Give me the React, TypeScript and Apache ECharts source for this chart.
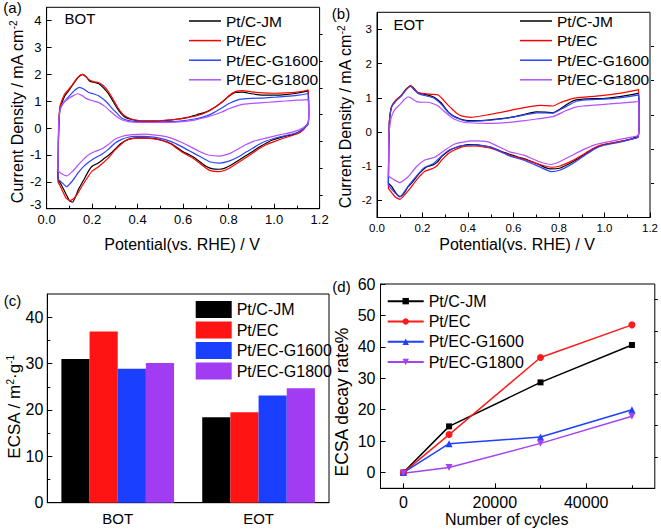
import React, { useEffect, useRef } from 'react';
import * as echarts from 'echarts';

const FONT = "'Liberation Sans', Arial, Helvetica, sans-serif";

const seriesNames = ['Pt/C-JM', 'Pt/EC', 'Pt/EC-G1600', 'Pt/EC-G1800'];
const lineColors = ['#000000', '#ff0000', '#2a44ff', '#b450ff'];
const barColors = ['#000000', '#ff1414', '#1a3fff', '#a23cf2'];
const decayColors = ['#000000', '#ff1a1a', '#2040ff', '#a443f0'];

// ---------- (a) CV at BOT : [potential V, current mA cm-2] ----------
const cvBotJM = [
  [0.05, -1.9], [0.052, -0.5], [0.055, 0.4], [0.06, 0.8], [0.07, 1.0], [0.08, 1.2], [0.095, 1.37], [0.11, 1.55],
  [0.125, 1.74], [0.14, 1.9], [0.158, 2.0], [0.175, 1.9], [0.19, 1.75], [0.21, 1.7], [0.23, 1.65], [0.25, 1.5],
  [0.27, 1.3], [0.285, 1.1], [0.3, 0.88], [0.315, 0.68], [0.33, 0.52], [0.345, 0.41], [0.37, 0.33], [0.4, 0.28],
  [0.43, 0.26], [0.47, 0.26], [0.5, 0.27], [0.55, 0.31], [0.58, 0.34], [0.62, 0.4], [0.66, 0.5], [0.7, 0.6],
  [0.74, 0.78], [0.775, 0.99], [0.8, 1.18], [0.83, 1.33], [0.86, 1.34], [0.9, 1.28], [0.95, 1.23], [1.0, 1.23],
  [1.05, 1.25], [1.1, 1.3], [1.145, 1.38], [1.15, 1.4], [1.152, 0.6], [1.15, 0.2],
  [1.13, -0.02], [1.1, -0.18], [1.08, -0.25], [1.05, -0.3], [1.02, -0.37], [0.99, -0.45], [0.965, -0.56], [0.935, -0.7],
  [0.906, -0.87], [0.875, -1.03], [0.848, -1.18], [0.82, -1.33], [0.79, -1.47], [0.76, -1.53], [0.73, -1.52], [0.7, -1.42],
  [0.672, -1.24], [0.65, -1.1], [0.629, -1.0], [0.6, -0.88], [0.57, -0.7], [0.548, -0.58], [0.51, -0.46], [0.475, -0.39],
  [0.43, -0.36], [0.4, -0.36], [0.37, -0.39], [0.345, -0.47], [0.33, -0.55], [0.315, -0.66], [0.29, -0.88], [0.271, -1.02],
  [0.25, -1.15], [0.227, -1.3], [0.2, -1.42], [0.183, -1.62], [0.16, -1.98], [0.139, -2.3], [0.125, -2.6], [0.113, -2.76],
  [0.1, -2.7], [0.085, -2.45], [0.07, -2.2], [0.06, -2.05], [0.05, -1.93],
];
const cvBotEC = [
  [0.05, -2.0], [0.052, -0.5], [0.055, 0.45], [0.06, 0.85], [0.07, 1.1], [0.08, 1.28], [0.095, 1.42], [0.11, 1.58],
  [0.125, 1.76], [0.14, 1.92], [0.158, 2.0], [0.175, 1.9], [0.19, 1.78], [0.21, 1.72], [0.228, 1.7], [0.25, 1.58],
  [0.27, 1.38], [0.285, 1.18], [0.3, 0.95], [0.315, 0.74], [0.33, 0.57], [0.345, 0.45], [0.37, 0.35], [0.4, 0.29],
  [0.43, 0.27], [0.47, 0.27], [0.5, 0.28], [0.55, 0.31], [0.58, 0.34], [0.62, 0.39], [0.66, 0.46], [0.7, 0.58],
  [0.74, 0.78], [0.775, 1.0], [0.8, 1.2], [0.83, 1.36], [0.86, 1.4], [0.9, 1.35], [0.95, 1.31], [1.0, 1.3],
  [1.05, 1.31], [1.1, 1.34], [1.145, 1.41], [1.15, 1.43], [1.152, 0.6], [1.15, 0.2],
  [1.13, -0.05], [1.1, -0.22], [1.05, -0.35], [1.0, -0.5], [0.965, -0.62], [0.935, -0.76], [0.906, -0.93], [0.875, -1.1],
  [0.848, -1.25], [0.82, -1.4], [0.79, -1.55], [0.755, -1.62], [0.72, -1.58], [0.7, -1.48], [0.672, -1.3], [0.65, -1.16],
  [0.629, -1.05], [0.6, -0.92], [0.57, -0.74], [0.548, -0.6], [0.51, -0.47], [0.475, -0.4], [0.43, -0.37], [0.4, -0.37],
  [0.37, -0.4], [0.345, -0.48], [0.33, -0.58], [0.3, -0.82], [0.271, -1.12], [0.25, -1.28], [0.227, -1.45], [0.2, -1.6],
  [0.183, -1.8], [0.16, -2.1], [0.139, -2.4], [0.12, -2.62], [0.103, -2.7], [0.085, -2.6], [0.065, -2.25], [0.05, -2.0],
];
const cvBotG1600 = [
  [0.05, -1.9], [0.052, -0.5], [0.055, 0.3], [0.06, 0.7], [0.075, 0.95], [0.1, 1.2], [0.125, 1.42], [0.144, 1.52],
  [0.165, 1.45], [0.185, 1.33], [0.205, 1.28], [0.23, 1.2], [0.26, 1.0], [0.29, 0.72], [0.31, 0.55], [0.33, 0.38],
  [0.36, 0.28], [0.4, 0.24], [0.45, 0.22], [0.5, 0.23], [0.585, 0.26], [0.65, 0.34], [0.7, 0.45], [0.731, 0.56],
  [0.77, 0.75], [0.804, 0.93], [0.848, 1.07], [0.9, 1.11], [0.95, 1.12], [1.0, 1.15], [1.05, 1.18], [1.1, 1.22],
  [1.145, 1.28], [1.15, 1.3], [1.152, 0.5], [1.15, 0.15],
  [1.13, -0.02], [1.1, -0.17], [1.06, -0.26], [1.023, -0.33], [0.965, -0.48], [0.935, -0.6], [0.906, -0.75], [0.875, -0.9],
  [0.848, -1.05], [0.804, -1.22], [0.76, -1.3], [0.716, -1.25], [0.672, -1.05], [0.629, -0.85], [0.585, -0.65], [0.548, -0.5],
  [0.5, -0.38], [0.43, -0.31], [0.39, -0.31], [0.358, -0.34], [0.33, -0.42], [0.3, -0.56], [0.27, -0.8], [0.241, -0.98],
  [0.21, -1.12], [0.183, -1.28], [0.16, -1.45], [0.139, -1.66], [0.115, -1.95], [0.088, -2.18], [0.07, -2.05], [0.05, -1.9],
];
const cvBotG1800 = [
  [0.05, -1.6], [0.052, 0.0], [0.055, 0.4], [0.06, 0.72], [0.075, 0.95], [0.1, 1.12], [0.12, 1.22], [0.135, 1.28],
  [0.155, 1.22], [0.175, 1.1], [0.198, 1.03], [0.23, 0.95], [0.256, 0.81], [0.28, 0.63], [0.305, 0.45], [0.33, 0.31],
  [0.36, 0.24], [0.4, 0.21], [0.5, 0.21], [0.585, 0.23], [0.65, 0.3], [0.731, 0.48], [0.77, 0.6], [0.804, 0.73],
  [0.848, 0.86], [0.9, 0.92], [0.95, 0.95], [1.0, 0.98], [1.05, 1.01], [1.1, 1.04], [1.145, 1.06], [1.15, 1.08],
  [1.152, 0.5], [1.15, 0.2],
  [1.126, 0.0], [1.08, -0.15], [1.023, -0.25], [0.96, -0.38], [0.906, -0.5], [0.875, -0.62], [0.848, -0.75], [0.804, -0.95],
  [0.76, -1.04], [0.716, -1.01], [0.672, -0.87], [0.629, -0.68], [0.585, -0.5], [0.548, -0.37], [0.5, -0.28], [0.43, -0.22],
  [0.358, -0.26], [0.33, -0.31], [0.3, -0.41], [0.27, -0.62], [0.241, -0.78], [0.21, -0.88], [0.183, -1.0], [0.16, -1.18],
  [0.139, -1.37], [0.115, -1.6], [0.088, -1.78], [0.07, -1.72], [0.05, -1.6],
];

// ---------- (b) CV at EOT ----------
const cvEotJM = [
  [0.05, -1.5], [0.052, -0.3], [0.055, 0.35], [0.064, 0.74], [0.079, 0.89], [0.095, 1.0], [0.108, 1.08], [0.128, 1.25],
  [0.148, 1.35], [0.162, 1.28], [0.174, 1.18], [0.19, 1.13], [0.203, 1.11], [0.225, 1.08], [0.247, 1.03], [0.265, 0.95],
  [0.284, 0.84], [0.3, 0.7], [0.313, 0.59], [0.33, 0.5], [0.349, 0.43], [0.375, 0.36], [0.4, 0.33], [0.473, 0.34],
  [0.547, 0.39], [0.605, 0.45], [0.65, 0.52], [0.7, 0.59], [0.74, 0.58], [0.773, 0.56], [0.8, 0.65], [0.824, 0.76],
  [0.85, 0.87], [0.876, 0.94], [0.92, 0.97], [0.992, 0.98], [1.05, 1.02], [1.1, 1.07], [1.146, 1.13], [1.15, 1.15],
  [1.152, 0.3], [1.148, -0.1],
  [1.124, -0.19], [1.066, -0.28], [0.992, -0.38], [0.955, -0.48], [0.92, -0.62], [0.89, -0.75], [0.861, -0.87], [0.83, -0.98],
  [0.802, -1.06], [0.765, -1.08], [0.74, -1.04], [0.715, -0.96], [0.685, -0.88], [0.656, -0.8], [0.62, -0.73], [0.583, -0.65],
  [0.54, -0.55], [0.503, -0.45], [0.45, -0.38], [0.4, -0.37], [0.371, -0.41], [0.345, -0.46], [0.32, -0.53], [0.3, -0.63],
  [0.284, -0.72], [0.265, -0.88], [0.247, -0.96], [0.225, -1.0], [0.21, -1.06], [0.19, -1.18], [0.174, -1.31], [0.155, -1.47],
  [0.137, -1.6], [0.12, -1.78], [0.101, -1.89], [0.085, -1.8], [0.065, -1.6], [0.05, -1.5],
];
const cvEotEC = [
  [0.05, -1.65], [0.052, -0.3], [0.055, 0.35], [0.064, 0.74], [0.079, 0.9], [0.108, 1.08], [0.128, 1.25], [0.148, 1.36],
  [0.165, 1.25], [0.18, 1.15], [0.21, 1.12], [0.245, 1.1], [0.269, 1.08], [0.29, 0.95], [0.31, 0.8], [0.327, 0.69],
  [0.35, 0.55], [0.371, 0.47], [0.415, 0.43], [0.45, 0.46], [0.503, 0.52], [0.55, 0.58], [0.605, 0.66], [0.671, 0.74],
  [0.72, 0.78], [0.773, 0.76], [0.817, 0.89], [0.876, 1.0], [0.963, 1.05], [1.066, 1.13], [1.146, 1.23], [1.15, 1.25],
  [1.152, 0.3], [1.148, -0.15],
  [1.124, -0.2], [1.066, -0.28], [0.992, -0.37], [0.955, -0.46], [0.92, -0.6], [0.861, -0.83], [0.802, -1.0], [0.765, -1.03],
  [0.715, -0.95], [0.656, -0.82], [0.583, -0.68], [0.503, -0.48], [0.43, -0.41], [0.371, -0.44], [0.32, -0.6], [0.284, -0.82],
  [0.265, -0.98], [0.247, -1.06], [0.21, -1.15], [0.174, -1.4], [0.137, -1.72], [0.101, -1.97], [0.08, -1.9], [0.05, -1.65],
];
const cvEotG1600 = [
  [0.05, -1.55], [0.052, -0.3], [0.055, 0.35], [0.064, 0.72], [0.079, 0.87], [0.108, 1.06], [0.128, 1.23], [0.148, 1.33],
  [0.165, 1.22], [0.18, 1.13], [0.203, 1.08], [0.247, 1.0], [0.284, 0.8], [0.313, 0.57], [0.349, 0.41], [0.4, 0.31],
  [0.473, 0.33], [0.547, 0.38], [0.605, 0.44], [0.65, 0.5], [0.7, 0.56], [0.773, 0.55], [0.824, 0.72], [0.876, 0.9],
  [0.92, 0.94], [0.992, 0.96], [1.066, 1.0], [1.146, 1.08], [1.15, 1.1], [1.152, 0.3], [1.148, -0.15],
  [1.124, -0.2], [1.066, -0.3], [0.992, -0.4], [0.955, -0.5], [0.92, -0.65], [0.861, -0.92], [0.802, -1.12], [0.765, -1.16],
  [0.715, -1.02], [0.656, -0.85], [0.583, -0.7], [0.503, -0.45], [0.43, -0.38], [0.371, -0.4], [0.32, -0.52], [0.284, -0.7],
  [0.247, -0.93], [0.21, -1.03], [0.174, -1.28], [0.137, -1.58], [0.101, -1.9], [0.075, -1.75], [0.05, -1.55],
];
const cvEotG1800 = [
  [0.05, -1.29], [0.052, -0.1], [0.057, 0.2], [0.064, 0.45], [0.079, 0.66], [0.1, 0.8], [0.12, 0.95], [0.137, 1.03],
  [0.155, 0.97], [0.174, 0.89], [0.2, 0.87], [0.225, 0.87], [0.25, 0.82], [0.269, 0.76], [0.288, 0.65], [0.305, 0.55],
  [0.33, 0.42], [0.349, 0.35], [0.37, 0.3], [0.4, 0.27], [0.488, 0.25], [0.583, 0.28], [0.65, 0.33], [0.7, 0.38],
  [0.773, 0.45], [0.83, 0.62], [0.87, 0.72], [0.905, 0.76], [1.022, 0.82], [1.146, 0.89], [1.15, 0.9], [1.152, 0.3],
  [1.148, -0.1],
  [1.124, -0.14], [1.022, -0.28], [0.96, -0.37], [0.92, -0.48], [0.861, -0.67], [0.802, -0.87], [0.765, -0.95], [0.715, -0.87],
  [0.642, -0.67], [0.583, -0.58], [0.488, -0.29], [0.415, -0.26], [0.342, -0.35], [0.298, -0.53], [0.254, -0.74], [0.21, -0.82],
  [0.174, -1.01], [0.137, -1.31], [0.101, -1.48], [0.075, -1.4], [0.05, -1.29],
];

// ---------- (c) ECSA ----------
const ecsaCategories = ['BOT', 'EOT'];
const ecsaJM = [31.0, 18.4];
const ecsaEC = [36.9, 19.5];
const ecsaG1600 = [28.9, 23.1];
const ecsaG1800 = [30.1, 24.7];

// ---------- (d) decay ----------
const cycles = [0, 10000, 30000, 50000];
const decayJM = [0, 14.7, 28.7, 40.6];
const decayEC = [0, 12.1, 36.6, 47.0];
const decayG1600 = [0, 9.2, 11.3, 20.0];
const decayG1800 = [-0.2, 1.6, 9.3, 17.9];

// tick values
const cvXMajor = [0, 0.2, 0.4, 0.6, 0.8, 1.0, 1.2];
const cvXMinor = [0.1, 0.3, 0.5, 0.7, 0.9, 1.1];
const botYMajor = [-3, -2, -1, 0, 1, 2, 3, 4];
const botYMinor = [-2.5, -1.5, -0.5, 0.5, 1.5, 2.5, 3.5];
const eotYMajor = [-2, -1, 0, 1, 2, 3];
const eotYMinor = [-1.5, -0.5, 0.5, 1.5, 2.5];
const ecsaYMajor = [0, 10, 20, 30, 40];
const ecsaYMinor = [5, 15, 25, 35];
const decayXMajor = [0, 20000, 40000];
const decayXMinor = [10000, 30000, 50000];
const decayYMajor = [0, 10, 20, 30, 40, 50, 60];
const decayYMinor = [5, 15, 25, 35, 45, 55];

const BLACK = '#000';

function gridBox(left: number, top: number, width: number, height: number) {
  return { left, top, width, height, show: true, borderColor: BLACK, borderWidth: 1, backgroundColor: 'transparent', containLabel: false };
}

function xAxes(min: number, max: number, majors: number[], minors: number[], h: number, fs: number, margin: number, fmt: (v: number) => string) {
  return [
    {
      type: 'value', min, max, position: 'bottom',
      axisLine: { show: true, onZero: false, lineStyle: { color: BLACK, width: 1 } },
      axisTick: { show: true, inside: true, length: 5, customValues: majors, lineStyle: { color: BLACK } },
      axisLabel: { customValues: majors, color: BLACK, fontSize: fs, fontFamily: FONT, margin, formatter: fmt },
      splitLine: { show: false },
    },
    {
      type: 'value', min, max, position: 'top', offset: -h,
      axisLine: { show: false },
      axisTick: { show: true, inside: false, length: 3, customValues: minors, lineStyle: { color: BLACK } },
      axisLabel: { show: false },
      splitLine: { show: false },
    },
  ];
}

function yAxes(min: number, max: number, majors: number[], minors: number[], w: number, fs: number, margin: number, liftLowest = false) {
  return [
    {
      type: 'value', min, max, position: 'left',
      axisLine: { show: true, onZero: false, lineStyle: { color: BLACK, width: 1 } },
      axisTick: { show: true, inside: true, length: 5, customValues: majors, lineStyle: { color: BLACK } },
      axisLabel: {
        customValues: majors, color: BLACK, fontSize: fs, fontFamily: FONT, margin,
        formatter: (v: number) => (liftLowest && v === min ? '{lo|' + String(v) + '}' : String(v)),
        rich: { lo: { fontSize: fs, fontFamily: FONT, color: BLACK, padding: [0, 0, 9, 0] } },
      },
      splitLine: { show: false },
    },
    {
      type: 'value', min, max, position: 'right', offset: -w,
      axisLine: { show: false },
      axisTick: { show: true, inside: false, length: 3, customValues: minors, lineStyle: { color: BLACK } },
      axisLabel: { show: false },
      splitLine: { show: false },
    },
  ];
}

function txt(text: string, x: number, y: number, fontSize: number, extra: any = {}) {
  return {
    type: 'text', x, y, ...extra,
    style: {
      text, fontSize, fontFamily: FONT, fill: BLACK,
      align: 'center', verticalAlign: 'middle', textAlign: 'center', textVerticalAlign: 'middle',
    },
  };
}

function richTxt(parts: string, x: number, y: number, fontSize: number, supSize: number, supRaise: number) {
  return {
    type: 'text', x, y, rotation: Math.PI / 2,
    style: {
      text: parts, fill: BLACK, fontFamily: FONT, fontSize,
      align: 'center', verticalAlign: 'middle', textAlign: 'center', textVerticalAlign: 'middle',
      rich: {
        m: { fontSize, fontFamily: FONT, fill: BLACK, color: BLACK, verticalAlign: 'bottom' },
        s: { fontSize: supSize, fontFamily: FONT, fill: BLACK, color: BLACK, verticalAlign: 'bottom', padding: [0, 0, supRaise, 0] },
      },
    },
  };
}

function cvOption(cfg: any) {
  const { left, top, width, height, ymin, ymax, yMajor, yMinor, tickFs, xMargin, data, legendLeft, tag, tagPos, label, labelPos, xTitle, yTitle, lift } = cfg;
  return {
    animation: false,
    grid: [gridBox(left, top, width, height)],
    xAxis: xAxes(0, 1.2, cvXMajor, cvXMinor, height, tickFs, xMargin, (v: number) => v.toFixed(1)),
    yAxis: yAxes(ymin, ymax, yMajor, yMinor, width, tickFs, 5, lift),
    legend: {
      orient: 'vertical', left: legendLeft, top: 6.2, itemWidth: 32, itemHeight: 1.5, itemGap: 0, icon: 'rect',
      textStyle: { fontSize: 15.5, fontFamily: FONT, color: BLACK, lineHeight: 19.6 },
      data: seriesNames,
    },
    series: data.map((d: number[][], i: number) => ({
      type: 'line', name: seriesNames[i], data: d, xAxisIndex: 0, yAxisIndex: 0,
      symbol: 'none', smooth: 0.15,
      lineStyle: { width: 1.2, color: lineColors[i] }, itemStyle: { color: lineColors[i] },
    })),
    graphic: [
      txt(tag, tagPos[0], tagPos[1], 15),
      txt(label, labelPos[0], labelPos[1], 15),
      txt('Potential(vs. RHE) / V', xTitle[0], xTitle[1], 16),
      richTxt('{m|Current Density / mA cm}{s|-2}', yTitle[0], yTitle[1], 16, 10, 7),
    ],
  };
}

const optionA = cvOption({
  left: 46.6, top: 7.3, width: 273, height: 201.4, ymin: -3, ymax: 4.5, yMajor: botYMajor, yMinor: botYMinor,
  tickFs: 13, xMargin: 4.5, lift: true, data: [cvBotJM, cvBotEC, cvBotG1600, cvBotG1800], legendLeft: 184,
  tag: '(a)', tagPos: [12.5, 7], label: 'BOT', labelPos: [80, 18.3], xTitle: [182, 244], yTitle: [16.7, 112],
});

const optionB = cvOption({
  left: 377, top: 12.3, width: 274, height: 205.2, ymin: -2.5, ymax: 3.5, yMajor: eotYMajor, yMinor: eotYMinor,
  tickFs: 11.5, xMargin: 4, lift: false, data: [cvEotJM, cvEotEC, cvEotG1600, cvEotG1800], legendLeft: 515,
  tag: '(b)', tagPos: [341, 13], label: 'EOT', labelPos: [408.8, 24.3], xTitle: [517, 244], yTitle: [345, 117],
});

const optionC = {
  animation: false,
  grid: [gridBox(47.3, 294, 281.7, 208.7)],
  xAxis: [{
    type: 'category', data: ecsaCategories,
    axisLine: { show: true, lineStyle: { color: BLACK, width: 1 } },
    axisTick: { show: false },
    axisLabel: { color: BLACK, fontSize: 15, fontFamily: FONT, margin: 8 },
    splitLine: { show: false },
  }],
  yAxis: yAxes(0, 45, ecsaYMajor, ecsaYMinor, 281.7, 16, 4),
  legend: {
    orient: 'vertical', left: 190.7, top: 296, itemWidth: 36, itemHeight: 17, itemGap: 3.5, icon: 'rect',
    textStyle: { fontSize: 16, fontFamily: FONT, color: BLACK, lineHeight: 17 },
    data: seriesNames,
  },
  series: [ecsaJM, ecsaEC, ecsaG1600, ecsaG1800].map((d, i) => ({
    type: 'bar', name: seriesNames[i], data: d, barGap: '0%', barCategoryGap: '20%',
    itemStyle: { color: barColors[i] },
  })),
  graphic: [
    txt('(c)', 12.5, 300, 15),
    richTxt('{m|ECSA / m}{s|2}{m|·g}{s|-1}', 14, 407, 17, 10, 7),
  ],
};

const decaySymbols = ['rect', 'circle', 'triangle', 'path://M0,0 L10,0 L5,8.66 Z'];
const decaySizes = [6, 7, 7, 7];

const optionD = {
  animation: false,
  grid: [gridBox(380.5, 284, 274.3, 204.3)],
  xAxis: xAxes(-5000, 55000, decayXMajor, decayXMinor, 204.3, 16, 6, (v: number) => String(v)),
  yAxis: yAxes(-5, 60, decayYMajor, decayYMinor, 274.3, 16, 5),
  legend: {
    orient: 'vertical', left: 381.7, top: 286, itemWidth: 36, itemHeight: 8, itemGap: 0,
    textStyle: { fontSize: 16, fontFamily: FONT, color: BLACK, lineHeight: 20.3 },
    data: seriesNames,
  },
  series: [decayJM, decayEC, decayG1600, decayG1800].map((d, i) => ({
    type: 'line', name: seriesNames[i], data: cycles.map((c, j) => [c, d[j]]),
    xAxisIndex: 0, yAxisIndex: 0,
    symbol: decaySymbols[i], symbolSize: decaySizes[i], showSymbol: true,
    lineStyle: { width: 1.5, color: decayColors[i] }, itemStyle: { color: decayColors[i] },
  })),
  graphic: [
    txt('(d)', 341.5, 286, 15),
    richTxt('{m|ECSA decay rate%}', 341.7, 402, 17.5, 10, 7),
    txt('Number of cycles', 506.7, 519.3, 16),
  ],
};

function Panel({ option }: { option: any }) {
  const ref = useRef<HTMLDivElement>(null);
  useEffect(() => {
    const chart = echarts.init(ref.current as HTMLDivElement, null, { renderer: 'svg' });
    chart.setOption(option);
    return () => chart.dispose();
  }, [option]);
  return <div ref={ref} style={{ position: 'absolute', left: 0, top: 0, width: 661, height: 530 }} />;
}

export default function App() {
  return (
    <div style={{ position: 'absolute', left: 0, top: 0, width: 661, height: 530, background: '#fff', overflow: 'hidden' }}>
      <Panel option={optionA} />
      <Panel option={optionB} />
      <Panel option={optionC} />
      <Panel option={optionD} />
    </div>
  );
}
